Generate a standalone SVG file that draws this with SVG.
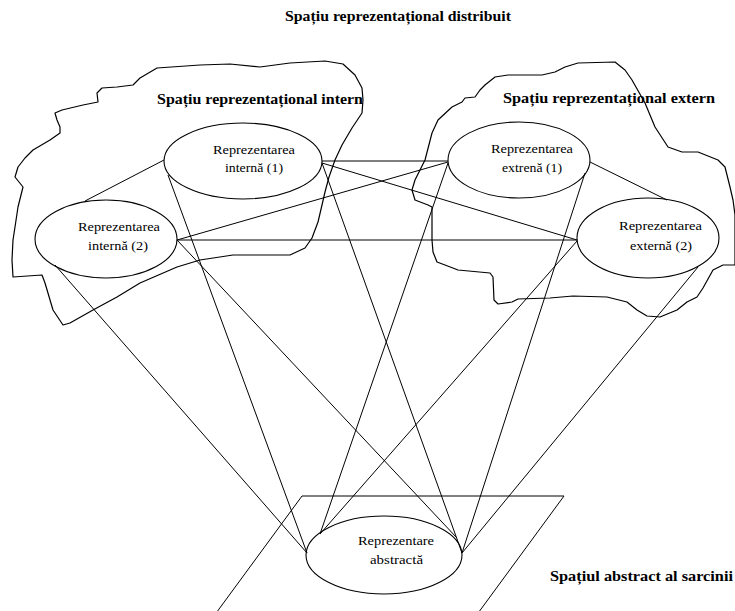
<svg xmlns="http://www.w3.org/2000/svg" width="735" height="611" viewBox="0 0 735 611">
<style>
.blob{fill:none;stroke:#000;stroke-width:1.2;stroke-linejoin:round}
.node{fill:none;stroke:#000;stroke-width:1.1}
.ln{stroke:#000;stroke-width:1;fill:none}
.lbl{font-family:"Liberation Serif","Times New Roman",serif;font-size:13.5px;fill:#000}
.hd{font-family:"Liberation Serif","Times New Roman",serif;font-size:14px;font-weight:bold;fill:#000}
</style>
<rect width="735" height="611" fill="#fff"/>
<g id="spatiu-distribuit">
<text class="hd" x="285" y="21" textLength="226" lengthAdjust="spacingAndGlyphs">Spațiu reprezentațional distribuit</text>
</g>
<g id="spatiu-intern">
<path class="blob" d="M200,65 L230,64 260,67 290,63 325,61 343,64 355,75 362,88 363,100 362,113 352,128 342,145 335,160 329,177 325,192 322,205 318,222 312,238 305,248 290,255 233,255 200,260 177,267 140,283 117,297 93,310 70,323 63,325 53,310 45,283 42,275 13,277 12,260 13,240 15,227 18,207 23,187 15,177 18,167 25,158 33,150 50,140 60,133 60,127 57,120 55,113 62,110 83,105 98,102 97,93 102,88 117,87 133,85 140,78 157,68 Z"/>
<text class="hd" x="157" y="104" textLength="206" lengthAdjust="spacingAndGlyphs">Spațiu reprezentațional intern</text>
</g>
<g id="spatiu-extern">
<path class="blob" d="M578,63 L615,62 625,70 632,80 645,103 655,127 668,147 682,152 698,152 718,160 725,167 730,187 733,200 735,215 L735,265 723,265 713,270 703,288 697,297 687,302 677,310 660,317 647,316 637,310 627,302 607,297 573,296 550,298 518,299 512,302 498,304 494,300 493,277 490,273 458,270 445,265 437,262 433,252 432,240 432,207 428,205 415,200 412,190 415,180 425,160 432,133 438,120 452,107 462,102 465,98 475,97 480,90 485,85 495,77 508,75 542,75 555,72 565,67 Z"/>
<text class="hd" x="503" y="103" textLength="212" lengthAdjust="spacingAndGlyphs">Spațiu reprezentațional extern</text>
</g>
<g id="spatiu-abstract">
<path class="ln" d="M211,620 L302,496 L564,496 L473,620"/>
<text class="hd" x="550" y="581" textLength="183" lengthAdjust="spacingAndGlyphs">Spațiul abstract al sarcinii</text>
</g>
<g id="connectors">
<line class="ln" x1="164" y1="160" x2="85" y2="201"/>
<line class="ln" x1="322" y1="161" x2="448" y2="161"/>
<line class="ln" x1="322" y1="163" x2="577" y2="240"/>
<line class="ln" x1="177" y1="240" x2="448" y2="162"/>
<line class="ln" x1="177" y1="240" x2="577" y2="240"/>
<line class="ln" x1="590" y1="162" x2="667" y2="200"/>
<line class="ln" x1="168" y1="175" x2="307" y2="553"/>
<line class="ln" x1="55" y1="265" x2="307" y2="553"/>
<line class="ln" x1="448" y1="163" x2="320" y2="534"/>
<line class="ln" x1="577" y1="241" x2="320" y2="534"/>
<line class="ln" x1="322" y1="163" x2="462" y2="553"/>
<line class="ln" x1="177" y1="240" x2="457" y2="538"/>
<line class="ln" x1="585" y1="173" x2="462" y2="553"/>
<line class="ln" x1="698" y1="267" x2="462" y2="553"/>
</g>
<g id="reprezentarea-interna-1">
<ellipse class="node" cx="243" cy="161" rx="79" ry="38"/>
<text class="lbl" x="213" y="154" textLength="82" lengthAdjust="spacingAndGlyphs">Reprezentarea</text>
<text class="lbl" x="225" y="172" textLength="58" lengthAdjust="spacingAndGlyphs">internă (1)</text>
</g>
<g id="reprezentarea-interna-2">
<ellipse class="node" cx="106" cy="239" rx="71" ry="39"/>
<text class="lbl" x="78" y="231" textLength="82" lengthAdjust="spacingAndGlyphs">Reprezentarea</text>
<text class="lbl" x="88" y="250" textLength="60" lengthAdjust="spacingAndGlyphs">internă (2)</text>
</g>
<g id="reprezentarea-externa-1">
<ellipse class="node" cx="519" cy="160" rx="71" ry="38"/>
<text class="lbl" x="491" y="153" textLength="82" lengthAdjust="spacingAndGlyphs">Reprezentarea</text>
<text class="lbl" x="502" y="172" textLength="60" lengthAdjust="spacingAndGlyphs">extrenă (1)</text>
</g>
<g id="reprezentarea-externa-2">
<ellipse class="node" cx="648" cy="238" rx="71" ry="40"/>
<text class="lbl" x="619" y="230" textLength="83" lengthAdjust="spacingAndGlyphs">Reprezentarea</text>
<text class="lbl" x="630" y="250" textLength="62" lengthAdjust="spacingAndGlyphs">externă (2)</text>
</g>
<g id="reprezentare-abstracta">
<ellipse class="node" cx="384" cy="555" rx="78" ry="39"/>
<text class="lbl" x="358" y="545" textLength="76" lengthAdjust="spacingAndGlyphs">Reprezentare</text>
<text class="lbl" x="370" y="564" textLength="53" lengthAdjust="spacingAndGlyphs">abstractă</text>
</g>
</svg>
